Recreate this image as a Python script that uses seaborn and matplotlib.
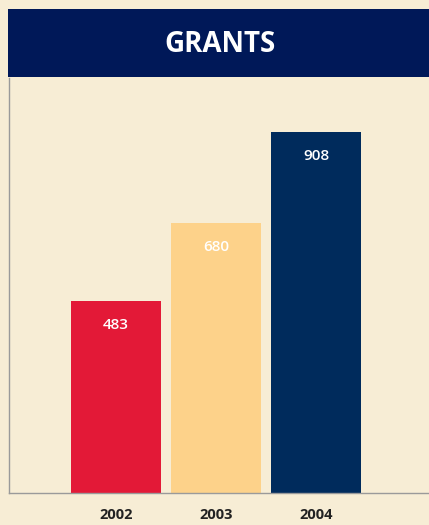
import matplotlib
matplotlib.use("Agg")
import matplotlib.pyplot as plt
import seaborn as sns
import pandas as pd
from matplotlib.patches import Rectangle

years = ["2002", "2003", "2004"]
grants = [483, 680, 908]
bar_colors = ["#e31937", "#fdd28a", "#002b5c"]
title = "GRANTS"

bg = "#f7edd5"
header = "#001858"

sns.set_theme(style="white")
plt.rcParams["font.family"] = ["Open Sans", "DejaVu Sans"]

W, H = 429, 525
fig = plt.figure(figsize=(W / 100, H / 100), dpi=100, facecolor=bg)
ax = fig.add_axes([9 / W, 32 / H, 420 / W, 415 / H])
ax.set_facecolor(bg)

df = pd.DataFrame({"year": years, "grants": grants})
sns.barplot(data=df, x="year", y="grants", hue="year", palette=bar_colors,
            width=0.9, legend=False, ax=ax, saturation=1, linewidth=0)

ax.set_xlim(-1.07, 3.13)
ax.set_ylim(0, 1045)
ax.set_xlabel("")
ax.set_ylabel("")
ax.set_yticks([])
ax.tick_params(axis="x", length=0, pad=11)
for lbl in ax.get_xticklabels():
    lbl.set_fontweight("bold")
    lbl.set_fontsize(10.5)
    lbl.set_color("#222222")

for side in ["top", "right"]:
    ax.spines[side].set_visible(False)
for side in ["left", "bottom"]:
    ax.spines[side].set_color("#9a9a9a")
    ax.spines[side].set_linewidth(1)

for i, v in enumerate(grants):
    ax.text(i, v - 24 / 0.397, str(v), ha="center", va="center",
            color="white", fontsize=11, fontweight="semibold")

# header band
fig.patches.append(Rectangle((8 / W, 1 - 77 / H), 1 - 8 / W, 68 / H,
                             transform=fig.transFigure, facecolor=header,
                             edgecolor="none", zorder=0))
fig.text(220 / W, 1 - 41.5 / H, title, ha="center", va="center_baseline",
         color="white", fontsize=20, fontweight="bold")

fig.savefig("out.png", dpi=100, facecolor=bg)
